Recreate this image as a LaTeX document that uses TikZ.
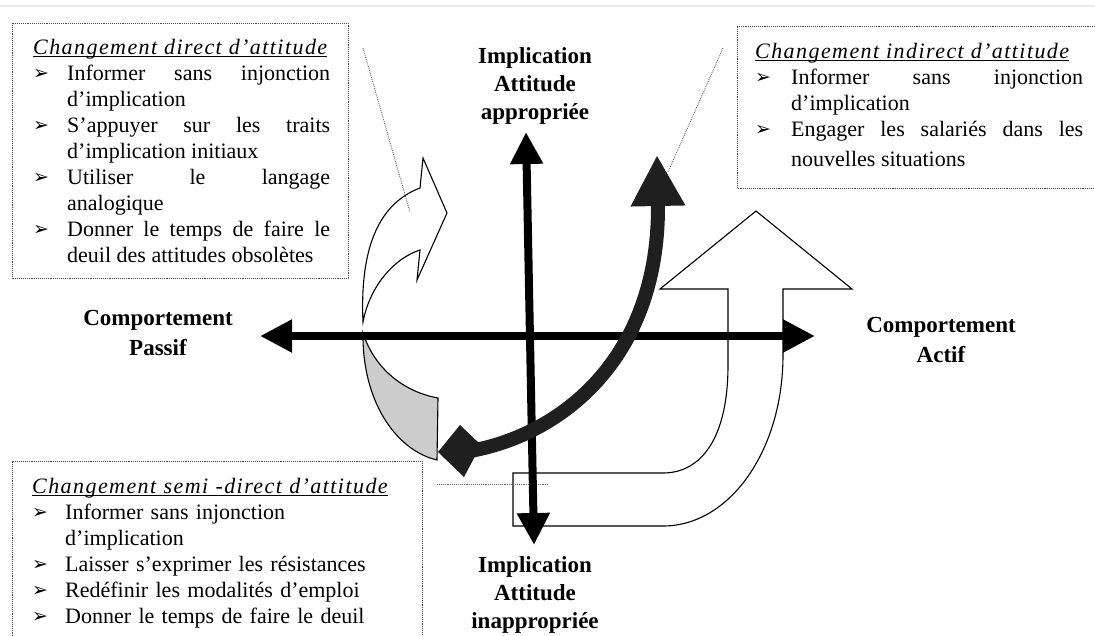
\documentclass[tikz,border=0pt]{standalone}
\usepackage{fontspec}
\setmainfont{Liberation Serif}
\newfontfamily\dingfont{DejaVu Sans}
\newfontfamily\titfont[LetterSpace=6.5]{Liberation Serif}
\usetikzlibrary{arrows.meta}
\newcommand{\bitem}[1]{\par\noindent\hangindent=#1\hangafter=1\makebox[#1][l]{\raisebox{0.5pt}{\dingfont\fontsize{19}{19}\selectfont ➢}}}
\newcommand{\ttl}[1]{\setbox0\hbox{\titfont\itshape #1}\rlap{\rule[-3pt]{\wd0}{1.1pt}}\box0}
\begin{document}
\begin{tikzpicture}[x=1pt,y=-1pt,
  txt/.style={font=\fontsize{22}{26}\selectfont, inner sep=0pt, anchor=base west, align=justify},
  lbl/.style={font=\fontsize{23}{28}\bfseries\selectfont, inner sep=0pt, anchor=base, text width=220pt, align=center},
  hlbl/.style={lbl, font=\fontsize{23}{30}\bfseries\selectfont},
  frame/.style={densely dotted, line width=0.9pt, draw=black!70},
  callout/.style={densely dotted, line width=0.9pt, draw=black!60},
  outl/.style={draw=black, line width=1.1pt, fill=white, line join=miter},
  axis/.style={line width=8pt, draw=black, {Triangle[length=32pt,width=31pt]}-{Triangle[length=32pt,width=31pt]}},
  dk/.style={fill=black!88},
  dkcurve/.style={draw=black!88, line width=14pt, -{Triangle[length=51pt,width=51pt]}}
]
\useasboundingbox (0,0) rectangle (1095,635);
\fill[white] (0,0) rectangle (1095,635);
\draw[black!8, line width=1.5pt] (0,6) -- (1095,6);

% large U-shaped arrow
\draw[outl] (756,211) -- (852,289) -- (783,289) -- (783,355)
  .. controls (783,450) and (730,526) .. (663,526) -- (513,526) -- (513,473) -- (663,473)
  .. controls (700,473) and (728,440) .. (728,365) -- (728,289) -- (660,289) -- cycle;

% twisted arrow: white front part
\draw[outl] (363,322) .. controls (360,255) and (375,205) .. (420,188) -- (423,158) -- (447,213)
  -- (417,280) -- (420,250) .. controls (395,258) and (370,285) .. (363,322) -- cycle;
% twisted arrow: grey back part
\draw[outl, fill=black!20] (363,333) .. controls (362,400) and (395,450) .. (437,460) -- (438,398)
  .. controls (405,392) and (375,370) .. (363,333) -- cycle;

% frames
\draw[frame] (12,23) rectangle (348,278);
\draw[frame] (1095,26) -- (737,26) -- (737,188) -- (1095,188);
\draw[frame] (12,640) -- (12,461) -- (422,461) -- (422,640);

% texts
\node[txt, text width=297pt] (boxA) at (33,54) {\ttl{Changement direct d’attitude}
\bitem{34pt}Informer sans injonction\linebreak d’implication
\bitem{34pt}S’appuyer sur les traits\linebreak d’implication initiaux
\bitem{34pt}Utiliser le langage\linebreak analogique
\bitem{34pt}Donner le temps de faire le\linebreak deuil des attitudes obsolètes\par};

\node[txt, text width=328pt] (boxB) at (755,58) {\ttl{Changement indirect d’attitude}
\bitem{36pt}Informer sans injonction\linebreak d’implication
\bitem{36pt}Engager les salariés dans les\vadjust{\vskip4pt}\linebreak nouvelles situations\par};

\node[txt, text width=380pt, align=left] (boxC) at (32,493) {\ttl{Changement semi -direct d’attitude}
\bitem{33pt}Informer sans injonction\hfil\break d’implication
\bitem{33pt}Laisser s’exprimer les résistances
\bitem{33pt}Redéfinir les modalités d’emploi
\bitem{33pt}Donner le temps de faire le deuil\par};

% callout lines
\coordinate (cA1) at (363,48); \coordinate (cA2) at (410,212);
\coordinate (cB1) at (723,48); \coordinate (cB2) at (668,172);
\coordinate (cC1) at (437,484); \coordinate (cC2) at (548,484);
\draw[callout] (cA1) -- (cA2);
\draw[callout] (cB1) -- (cB2);
\draw[callout] (cC1) -- (cC2);

% axes
\coordinate (axL) at (260,336); \coordinate (axR) at (815,336);
\coordinate (axT) at (526,132); \coordinate (axB) at (534,545);
\draw[axis] (axL) -- (axR);
\draw[axis] (axB) -- (axT);

% axis labels
\node[lbl] (approp) at (535,63) {Implication\\Attitude\\appropriée};
\node[lbl] (inapprop) at (535,572) {Implication\\Attitude\\inappropriée};
\node[hlbl] (passif) at (158,325) {Comportement\\Passif};
\node[hlbl] (actif) at (941,332) {Comportement\\Actif};

% black curved arrow with diamond tail
\fill[dk] (438,452) -- (460,425) -- (481,445) -- (464,477) -- cycle;
\coordinate (cS) at (470,451); \coordinate (cM) at (658,207); \coordinate (cT) at (657,155);
\draw[dkcurve] (cS) .. controls (560,435) and (658,360) .. (cM) -- (cT);
\end{tikzpicture}
\end{document}
